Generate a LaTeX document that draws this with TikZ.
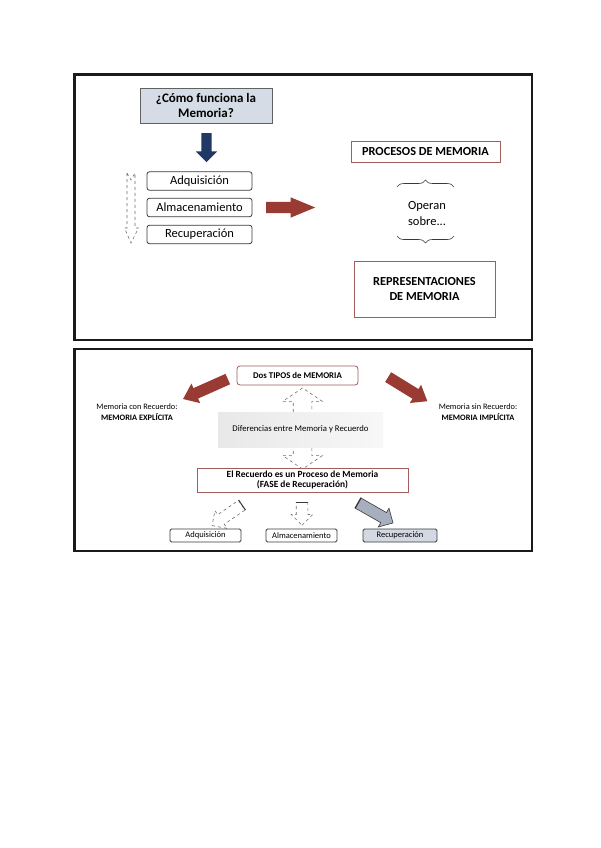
\documentclass[tikz,border=0pt]{standalone}
\usepackage{fontspec}
\setmainfont{Carlito}
\usetikzlibrary{shapes.arrows,decorations.pathreplacing}
\definecolor{framecol}{HTML}{1A1A1A}
\definecolor{qfill}{HTML}{D5DCE5}
\definecolor{navy}{HTML}{1F3864}
\definecolor{brick}{HTML}{9A3B33}
\definecolor{rosy}{HTML}{A35C5C}
\definecolor{boxline}{HTML}{3A3A3A}
\definecolor{dashgray}{HTML}{6E6E6E}
\definecolor{recfill}{HTML}{D3D8E2}
\definecolor{grayarrow}{HTML}{A7AFBF}
\tikzset{
  framebox/.style={draw=framecol, line width=2.2pt, fill=white},
  qbox/.style={draw=boxline!80, line width=0.9pt, fill=qfill, minimum width=132pt, minimum height=35pt,
    align=center, font=\bfseries\fontsize{13}{15}\selectfont, inner sep=0pt},
  stepbox/.style={draw=boxline, line width=0.8pt, rounded corners=2.5pt, minimum width=105pt,
    minimum height=18.5pt, inner sep=0pt, font=\fontsize{12.5}{14}\selectfont},
  redbox/.style={draw=rosy, line width=0.8pt, inner sep=0pt, align=center},
  bluearrow/.style={single arrow, fill=navy, draw=none, single arrow head indent=0pt, anchor=tail},
  redarrow/.style={single arrow, fill=brick, draw=none, single arrow head indent=0pt, anchor=tail},
  hollowarrow/.style={draw=dashgray, dashed, line width=0.6pt, fill=white},
  smallbox/.style={draw=boxline, line width=0.8pt, rounded corners=1.5pt, minimum width=71pt,
    minimum height=13pt, inner sep=0pt, font=\fontsize{8.5}{9}\selectfont},
  sidetext/.style={align=center, font=\fontsize{8.3}{11}\selectfont, inner sep=0pt},
  bracedeco/.style={draw=boxline, line width=0.6pt, decorate, decoration={brace, amplitude=7pt}}
}
\begin{document}
\begin{tikzpicture}[x=1pt,y=-1pt]
\useasboundingbox (0,0) rectangle (600,848);
% frames
\draw[framebox] (74.5,74.5) rectangle (532,340);
\draw[framebox] (74.5,349) rectangle (532,551);

% ---------- top frame ----------
\node[qbox] (q) at (206,105.5) {¿Cómo funciona la\\Memoria?};
\node[bluearrow, inner sep=5pt, single arrow head extend=5.5pt, minimum height=29pt, rotate=-90] (barrow) at (206.5,133) {};

\draw[hollowarrow] (127,173) -- (131,180) -- (135,173) -- (135,228) -- (138.5,228) -- (131,243) -- (124.5,228) -- (127,228) -- cycle;

\node[stepbox] (adq) at (199.5,181) {Adquisición};
\node[stepbox] (alm) at (199.5,207.5) {Almacenamiento};
\node[stepbox] (rec) at (199.5,234.5) {Recuperación};

\node[redarrow, inner sep=5.5pt, single arrow head extend=4.5pt, single arrow tip angle=45, minimum height=49pt] (rarrow) at (266,207.5) {};

\node[redbox, minimum width=149pt, minimum height=21pt, font=\bfseries\fontsize{12.3}{14}\selectfont] (proc) at (425.5,151.5) {PROCESOS DE MEMORIA};
\node[align=center, font=\fontsize{12.5}{16}\selectfont, inner sep=0pt] (op) at (427,213) {Operan\\sobre...};
\draw[bracedeco] (397,187) -- (454,187);
\draw[bracedeco] (454,236) -- (397,236);
\node[redbox, minimum width=141pt, minimum height=56pt, font=\bfseries\fontsize{12.3}{15}\selectfont] (repr) at (424.5,289) {REPRESENTACIONES\\DE MEMORIA};

% ---------- bottom frame ----------
\node[double arrow, draw=dashgray, dashed, line width=0.6pt, fill=white, inner sep=9pt,
  double arrow head extend=10.5pt, double arrow tip angle=112, minimum height=81pt, rotate=90] (darrow) at (302.5,428.5) {};
\node[redbox, rounded corners=3pt, minimum width=121pt, minimum height=19pt, font=\bfseries\fontsize{8.8}{10}\selectfont] (dos) at (297.5,375.5) {Dos TIPOS de MEMORIA};
\node[minimum width=165pt, minimum height=35pt, inner sep=0pt, left color=black!9, right color=black!3,
  font=\fontsize{8.7}{10}\selectfont] (dif) at (300.5,429.5) {Diferencias entre Memoria y Recuerdo};
\node[redbox, minimum width=211pt, minimum height=24pt, font=\bfseries\fontsize{9.4}{10.5}\selectfont] (recu) at (302.5,480) {El Recuerdo es un Proceso de Memoria\\(FASE de Recuperación)};

\node[redarrow, inner sep=5.5pt, single arrow head extend=5pt, single arrow tip angle=75, minimum height=49pt, rotate=204] (lred) at (228,379) {};
\node[redarrow, inner sep=5.5pt, single arrow head extend=5pt, single arrow tip angle=75, minimum height=46pt, rotate=-31.6] (rred) at (388,377) {};

\node[sidetext] (expl) at (137,412.5) {Memoria con Recuerdo:\\\textbf{MEMORIA EXPLÍCITA}};
\node[sidetext] (impl) at (478,412.5) {Memoria sin Recuerdo:\\\textbf{MEMORIA IMPLÍCITA}};

\node[single arrow, hollowarrow, anchor=tail, inner sep=5.5pt, single arrow head extend=5pt, minimum height=36pt, rotate=214.6] (larr) at (242,505) {};
\draw[boxline, line width=1pt] (larr.before tail) -- (larr.after tail);
\node[single arrow, hollowarrow, anchor=tail, inner sep=5.5pt, single arrow head extend=5pt, minimum height=23pt, rotate=-90] (marr) at (302,502) {};
\draw[boxline, line width=1pt] (marr.before tail) -- (marr.after tail);
\node[single arrow, draw=boxline, line width=0.6pt, fill=grayarrow, anchor=tail, inner sep=5.5pt, single arrow head extend=5pt, minimum height=40pt, rotate=-29.7] (rarr) at (358,503) {};
\draw[boxline, line width=1.2pt] (rarr.before tail) -- (rarr.after tail);

\node[smallbox] (badq) at (205.5,535.5) {Adquisición};
\node[smallbox] (balm) at (301.5,535.5) {Almacenamiento};
\node[smallbox, fill=recfill, minimum width=74pt] (brec) at (400,535.5) {Recuperación};
\end{tikzpicture}
\end{document}
